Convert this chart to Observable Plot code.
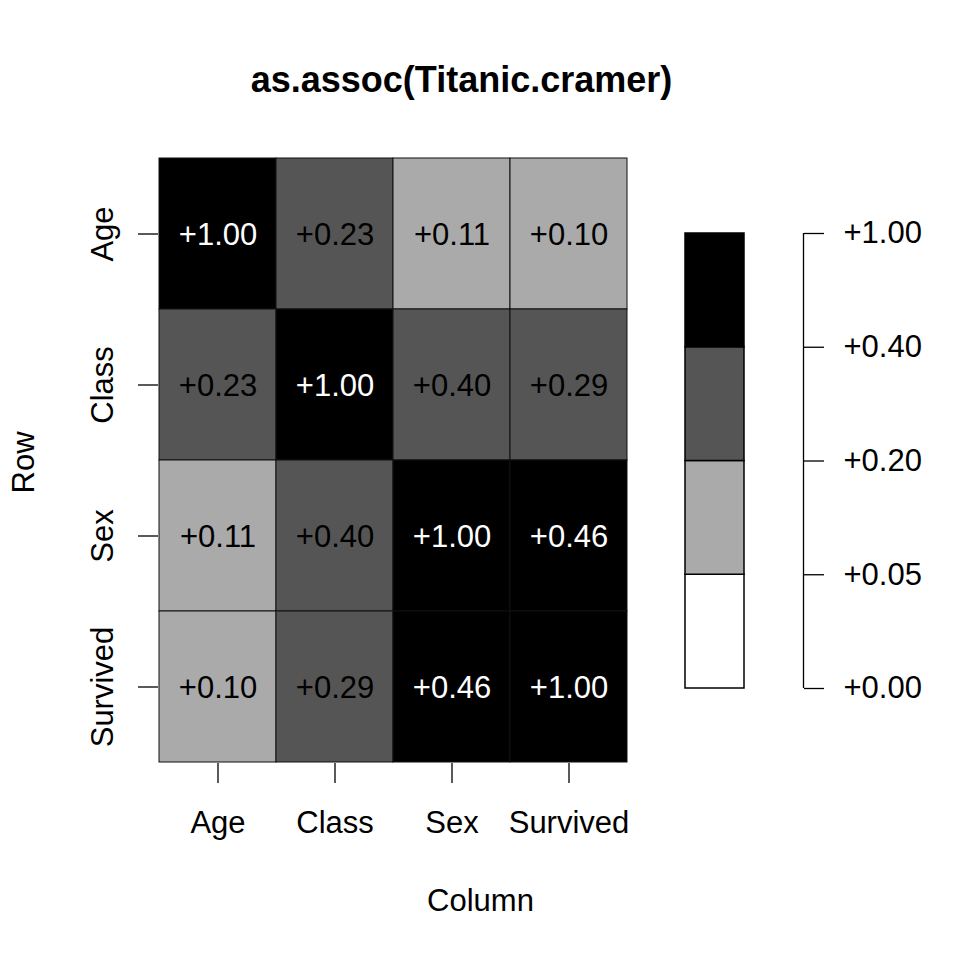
<!DOCTYPE html>
<html>
<head>
<meta charset="utf-8">
<script src="https://cdn.jsdelivr.net/npm/d3@7"></script>
<script src="https://cdn.jsdelivr.net/npm/@observablehq/plot@0.6"></script>
<style>
  html, body { margin: 0; padding: 0; background: white; }
  #wrap { position: relative; width: 960px; height: 960px; background: white; }
  #wrap svg { position: absolute; left: 0; top: 0; overflow: visible; }
</style>
</head>
<body>
<div id="wrap"></div>
<script>
// ---- data ----
const vars = ["Age", "Class", "Sex", "Survived"];
const ageRow      = [1.00, 0.23, 0.11, 0.10];
const classRow    = [0.23, 1.00, 0.398, 0.29];
const sexRow      = [0.11, 0.398, 1.00, 0.46];
const survivedRow = [0.10, 0.29, 0.46, 1.00];
const breaks = [0, 0.05, 0.2, 0.4, 1];
const breakLabels = ["+0.00", "+0.05", "+0.20", "+0.40", "+1.00"];
const shades = ["#FFFFFF", "#AAAAAA", "#555555", "#000000"];
const titleText = "as.assoc(Titanic.cramer)";
const rowLabel = "Row";
const colLabel = "Column";

const matrix = [ageRow, classRow, sexRow, survivedRow];
const cells = [];
matrix.forEach((row, i) => row.forEach((v, j) => cells.push({row: vars[i], col: vars[j], value: v})));
const fmt = d3.format("+.2f");
const font = "'Liberation Sans', Arial, Helvetica, sans-serif";

const colorScale = {type: "threshold", domain: breaks.slice(1, -1), range: shades};

const main = Plot.plot({
  width: 960, height: 960,
  marginLeft: 158, marginRight: 333, marginTop: 157, marginBottom: 197,
  style: {fontFamily: font, color: "black", background: "transparent"},
  x: {domain: vars, padding: 0, axis: null},
  y: {domain: vars, padding: 0, axis: null},
  color: colorScale,
  marks: [
    Plot.cell(cells, {x: "col", y: "row", fill: "value", stroke: "#111", strokeWidth: 1, inset: 0}),
    Plot.text(cells, {x: "col", y: "row", text: d => fmt(d.value), fontSize: 31, dy: 1.5,
      fill: d => d.value >= breaks[3] ? "white" : "black"}),
    Plot.axisX({anchor: "bottom", tickSize: 20, tickPadding: 27, fontSize: 31, label: null, strokeWidth: 1.3}),
    Plot.axisY({anchor: "left", tickSize: 20, tickPadding: 26, tickRotate: -90, fontSize: 31, label: null, strokeWidth: 1.3}),
    Plot.text([titleText], {frameAnchor: "top", textAnchor: "middle", dx: 68.5, dy: -66, lineAnchor: "bottom", fontSize: 36, fontWeight: "bold"}),
    Plot.text([rowLabel], {frameAnchor: "left", textAnchor: "middle", dx: -125, dy: 2, rotate: -90, lineAnchor: "bottom", fontSize: 31}),
    Plot.text([colLabel], {frameAnchor: "bottom", textAnchor: "middle", dx: 87.5, dy: 147, lineAnchor: "bottom", fontSize: 31})
  ]
});

const legendBins = [0, 1, 2, 3].map(i => ({lo: i, hi: i + 1, value: breaks[i]}));
const legend = Plot.plot({
  width: 960, height: 960,
  marginLeft: 685, marginRight: 216, marginTop: 233, marginBottom: 272,
  style: {fontFamily: font, color: "black", background: "transparent"},
  x: {domain: [0, 1], axis: null},
  y: {domain: [0, breaks.length - 1], axis: null},
  color: colorScale,
  marks: [
    Plot.rect(legendBins, {x1: 0, x2: 1, y1: "lo", y2: "hi", fill: "value", stroke: "black", strokeWidth: 1.5}),
    Plot.ruleX([1], {x: d => d, y1: 0, y2: breaks.length - 1, dx: 59, stroke: "black", strokeWidth: 1.3}),
    Plot.axisY({anchor: "right", dx: 59, ticks: d3.range(breaks.length), tickFormat: i => breakLabels[i],
      tickSize: 20, tickPadding: 20, fontSize: 31, label: null, strokeWidth: 1.3})
  ]
});

const wrap = document.getElementById("wrap");
wrap.appendChild(main);
wrap.appendChild(legend);
</script>
</body>
</html>
